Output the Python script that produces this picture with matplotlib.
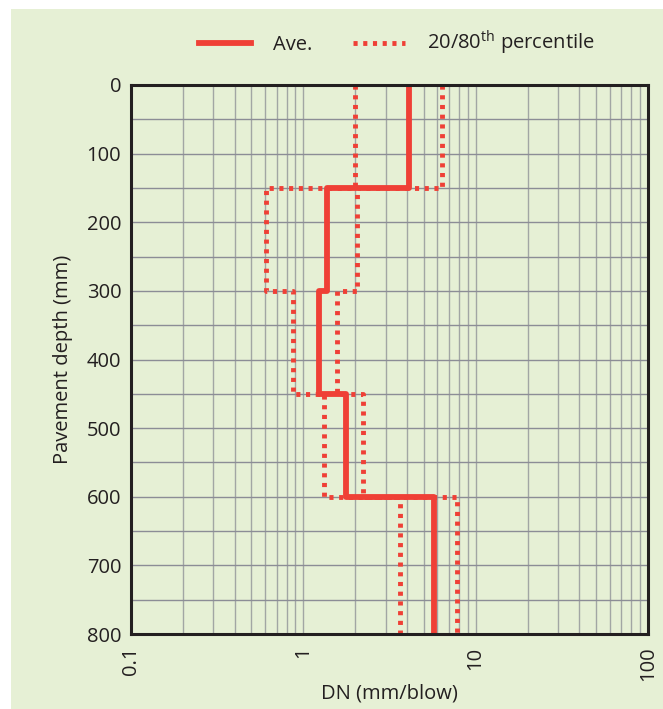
import matplotlib.pyplot as plt
from matplotlib.patches import Rectangle
from matplotlib.ticker import LogLocator, NullFormatter

plt.rcParams['font.family'] = ['Open Sans', 'DejaVu Sans']
plt.rcParams['mathtext.fontset'] = 'custom'
plt.rcParams['mathtext.rm'] = 'Open Sans'

# layer boundaries down the pavement (mm)
depth = [0, 150, 300, 450, 600, 800]
# DCP penetration rate per layer (mm/blow)
dn_ave = [4.1, 1.37, 1.24, 1.76, 5.7]
dn_p20 = [2.0, 0.61, 0.87, 1.31, 3.63]
dn_p80 = [6.35, 2.05, 1.56, 2.22, 7.75]

x_ticks = [0.1, 1, 10, 100]
x_ticklabels = ['0.1', '1', '10', '100']
y_ticks = [0, 100, 200, 300, 400, 500, 600, 700, 800]

bg = '#e6f0d5'
red = '#ef4036'
ink = '#231f20'
fs = 14.5


def profile(vals):
    # step outline: constant value through each layer
    xs, ys = [], []
    for i, v in enumerate(vals):
        xs += [v, v]
        ys += [depth[i], depth[i + 1]]
    return xs, ys


fig = plt.figure(figsize=(6.63, 7.09), dpi=100, facecolor='white')
fig.patches.append(Rectangle((11 / 663, 0), 1 - 11 / 663, 1 - 9 / 709,
                             transform=fig.transFigure, facecolor=bg,
                             edgecolor='none', zorder=-10))

ax = fig.add_axes([131 / 663, 1 - 634 / 709, (648 - 131) / 663, (634 - 85) / 709])
ax.set_facecolor(bg)

dotted = (0, (0.85, 1.15))
for vals in (dn_p20, dn_p80):
    xs, ys = profile(vals)
    ax.plot(xs, ys, color=red, lw=3.5, linestyle=dotted,
            dash_capstyle='butt', zorder=3)
xs, ys = profile(dn_ave)
ax.plot(xs, ys, color=red, lw=4.2, solid_capstyle='butt', zorder=4)

ax.set_xscale('log')
ax.set_xlim(0.1, 100)
ax.set_ylim(800, 0)
ax.set_xticks(x_ticks)
ax.set_xticklabels(x_ticklabels, rotation=90)
ax.xaxis.set_minor_locator(LogLocator(base=10, subs=range(2, 10)))
ax.xaxis.set_minor_formatter(NullFormatter())
ax.set_yticks(y_ticks)
ax.set_yticks(range(50, 800, 100), minor=True)

ax.grid(axis='x', which='both', color='#a2a6a4', lw=1.0, zorder=1)
ax.grid(axis='y', which='both', color='#8c8d96', lw=1.0, zorder=1)
ax.set_axisbelow(True)
ax.tick_params(which='both', length=0, labelsize=fs, colors=ink)
ax.tick_params(axis='y', pad=7)
ax.tick_params(axis='x', pad=9)
for s in ax.spines.values():
    s.set_color(ink)
    s.set_linewidth(2.2)
    s.set_zorder(5)

ax.set_xlabel('DN (mm/blow)', fontsize=fs, color=ink, labelpad=2)
ax.set_ylabel('Pavement depth (mm)', fontsize=fs, color=ink, labelpad=10)

ax.plot([], [], color=red, lw=4.2, label='Ave.')
ax.plot([], [], color=red, lw=3.5, linestyle=dotted, dash_capstyle='butt',
        label='20/80$^{\\rm th}$ percentile')
handles, labels = ax.get_legend_handles_labels()
fig.legend(handles[-2:], labels[-2:], ncol=2, frameon=False, fontsize=fs,
           loc='center', bbox_to_anchor=(397 / 663, 1 - 43 / 709),
           handlelength=2.6, handletextpad=1.1, columnspacing=2.0,
           labelcolor=ink)

fig.savefig('out.png', dpi=100, facecolor='white')
